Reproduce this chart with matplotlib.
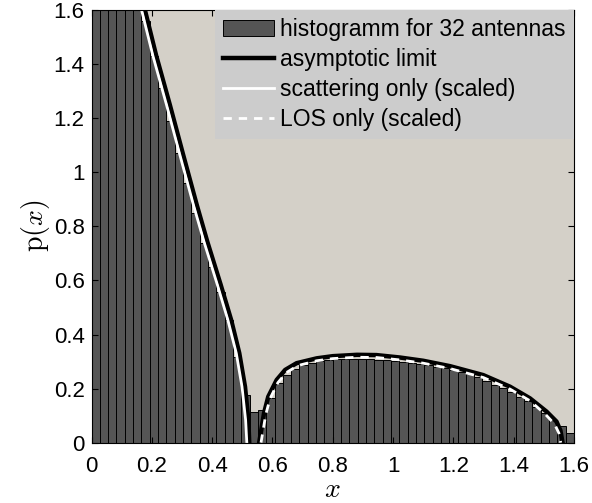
import numpy as np
import matplotlib.pyplot as plt

plt.rcParams['font.family'] = ['Liberation Sans', 'DejaVu Sans']
plt.rcParams['mathtext.fontset'] = 'cm'

# histogram, 58 equal bins on [0, 1.6]
bin_edges = np.linspace(0, 1.6, 59)
hist_vals = [3.0, 2.6, 2.3, 2.05, 1.85, 1.7, 1.56, 1.43, 1.31, 1.19,
             1.07, 0.96, 0.85, 0.74, 0.65, 0.558, 0.454, 0.318, 0.176, 0.115,
             0.121, 0.165, 0.219, 0.250, 0.271, 0.287, 0.296, 0.302, 0.306, 0.308,
             0.309, 0.309, 0.309, 0.308, 0.307, 0.305, 0.302, 0.299, 0.295, 0.291,
             0.286, 0.281, 0.275, 0.269, 0.262, 0.254, 0.244, 0.229, 0.214, 0.201,
             0.189, 0.170, 0.154, 0.133, 0.109, 0.084, 0.062, 0.037]

# asymptotic limit, two lobes
asym_x1 = [0.160, 0.177, 0.214, 0.260, 0.304, 0.349, 0.384, 0.428, 0.463, 0.490, 0.509, 0.520, 0.523]
asym_y1 = [1.68, 1.60, 1.433, 1.248, 1.064, 0.879, 0.743, 0.585, 0.454, 0.331, 0.207, 0.084, 0.0]
asym_x2 = [0.556, 0.572, 0.586, 0.614, 0.642, 0.680, 0.747, 0.800, 0.880, 0.945, 1.023, 1.100,
           1.189, 1.299, 1.388, 1.454, 1.509, 1.542, 1.555, 1.562]
asym_y2 = [0.0, 0.109, 0.170, 0.232, 0.269, 0.294, 0.312, 0.320, 0.325, 0.324, 0.315, 0.303,
           0.283, 0.250, 0.207, 0.164, 0.115, 0.078, 0.045, 0.0]

# scattering only (scaled)
scat_x = [0.150, 0.166, 0.203, 0.249, 0.293, 0.338, 0.373, 0.417, 0.452, 0.480, 0.499, 0.511, 0.515]
scat_y = [1.68, 1.60, 1.433, 1.248, 1.064, 0.879, 0.743, 0.585, 0.454, 0.331, 0.207, 0.084, 0.0]

# LOS only (scaled)
los_x = [0.562, 0.578, 0.592, 0.618, 0.646, 0.684, 0.747, 0.800, 0.880, 0.945, 1.023, 1.100,
         1.189, 1.299, 1.388, 1.454, 1.505, 1.536, 1.550, 1.556]
los_y = [0.0, 0.105, 0.163, 0.222, 0.259, 0.285, 0.303, 0.311, 0.316, 0.315, 0.306, 0.294,
         0.274, 0.241, 0.198, 0.155, 0.105, 0.068, 0.035, 0.0]

fig = plt.figure(figsize=(5.92, 5.03), dpi=100)
ax = fig.add_axes([0.1546, 0.1199, 0.815, 0.8602])
ax.set_facecolor('#d4d0c8')

hb = ax.bar(bin_edges[:-1], hist_vals, width=np.diff(bin_edges), align='edge',
            color='#555555', edgecolor='black', linewidth=0.7,
            label='histogramm for 32 antennas')
la, = ax.plot(asym_x1, asym_y1, color='black', lw=3.2, label='asymptotic limit')
ax.plot(asym_x2, asym_y2, color='black', lw=3.2)
ls_, = ax.plot(scat_x, scat_y, color='white', lw=2, label='scattering only (scaled)')
ll, = ax.plot(los_x, los_y, color='white', lw=2, ls=(0, (3, 2.5)), label='LOS only (scaled)')

ax.set_xlim(0, 1.6)
ax.set_ylim(0, 1.6)
ticks = np.arange(0, 1.61, 0.2)
labels = ['0', '0.2', '0.4', '0.6', '0.8', '1', '1.2', '1.4', '1.6']
ax.set_xticks(ticks)
ax.set_xticklabels(labels)
ax.set_yticks(ticks)
ax.set_yticklabels(labels)
ax.tick_params(direction='in', top=True, right=True, labelsize=16, length=4)
ax.tick_params(axis='x', pad=9.5)
ax.tick_params(axis='y', pad=5)
ax.set_xlabel('$x$', fontsize=20, labelpad=0)
ax.set_ylabel(r'$\mathrm{p}(x)$', fontsize=20, labelpad=1)

leg = ax.legend([hb, la, ls_, ll],
                ['histogramm for 32 antennas', 'asymptotic limit',
                 'scattering only (scaled)', 'LOS only (scaled)'],
                loc='upper right', fontsize=16.5, borderaxespad=0, frameon=True,
                fancybox=False, handlelength=2.2, handletextpad=0.3,
                labelspacing=0.3, borderpad=0.35)
leg.get_frame().set_facecolor('#cccccc')
leg.get_frame().set_edgecolor('none')
leg.get_frame().set_alpha(1)

fig.savefig('out.png', dpi=100)
